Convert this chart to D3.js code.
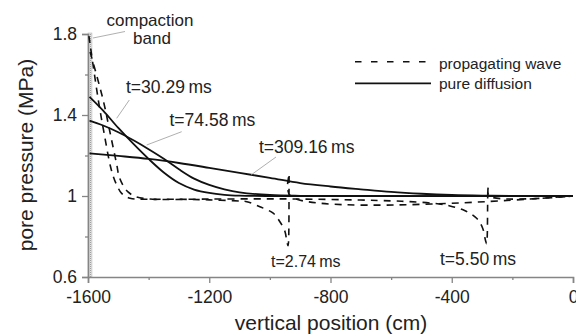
<!DOCTYPE html>
<html>
<head>
<meta charset="utf-8">
<script src="https://cdn.jsdelivr.net/npm/d3@7"></script>
<style>
  body { margin: 0; background: #fff; }
  svg { display: block; font-family: "Liberation Sans", Arial, Helvetica, sans-serif; }
</style>
</head>
<body>
<svg width="576" height="336"></svg>
<script>
// tick values for both axes
var xMajor = [-1600, -1200, -800, -400, 0];
var xMinor = [-1400, -1000, -600, -200];
var yMajor = [0.6, 1, 1.4, 1.8];
var yMinor = [0.8, 1.2, 1.6];

// compaction band extent (cm)
var bandEdges = [-1600, -1587];

// pure diffusion profiles: [position (cm), pressure (MPa)]
var diff30 = [[-1595,1.490],[-1550,1.422],[-1500,1.336],[-1450,1.257],[-1400,1.183],[-1350,1.116],
  [-1300,1.064],[-1250,1.032],[-1200,1.015],[-1150,1.006],[-1100,1.002],[-1000,1.0],[0,1.0]];
var diff74 = [[-1595,1.372],[-1550,1.348],[-1500,1.315],[-1450,1.275],[-1400,1.231],[-1350,1.184],
  [-1300,1.132],[-1250,1.086],[-1200,1.055],[-1150,1.033],[-1100,1.018],[-1000,1.005],[-900,1.001],[-800,1.0],[0,1.0]];
var diff309 = [[-1595,1.211],[-1500,1.198],[-1400,1.183],[-1300,1.163],[-1200,1.139],[-1100,1.114],
  [-1000,1.090],[-900,1.064],[-800,1.047],[-700,1.033],[-600,1.020],[-500,1.011],[-400,1.005],[-300,1.002],[-200,1.001],[0,1.0]];

// propagating wave profiles
var wave274 = [[-1597,1.790],[-1566,1.474],[-1547,1.311],[-1527,1.153],[-1516,1.094],[-1505,1.054],
  [-1489,1.013],[-1461,0.989],[-1412,0.984],[-1300,0.984],[-1200,0.981],[-1100,0.975],[-1076,0.972],
  [-1033,0.947],[-989,0.915],[-967,0.873],[-950,0.824],[-944,0.774],[-940,0.755],[-936,1.11],[-932,1.0],[0,1.0]];
var wave550 = [[-1593,1.711],[-1550,1.474],[-1527,1.311],[-1505,1.153],[-1498,1.099],[-1485,1.054],
  [-1468,1.020],[-1445,0.998],[-1396,0.985],[-1200,0.985],[-1000,0.986],[-900,0.985],[-700,0.980],
  [-600,0.976],[-538,0.972],[-461,0.964],[-406,0.951],[-356,0.927],[-318,0.890],[-298,0.841],
  [-289,0.783],[-285,0.765],[-280,1.046],[-276,1.0],[0,1.0]];

var waveSeries = [wave274, wave550];
var diffSeries = [diff30, diff74, diff309];

var legendNames = ["propagating wave", "pure diffusion"];

var labels = [
  {text: "t=30.29\u2009ms", x: 126, y: 93.3, size: 17.5},
  {text: "t=74.58\u2009ms", x: 169.5, y: 126, size: 17.5},
  {text: "t=309.16\u2009ms", x: 259, y: 153.3, size: 17.5},
  {text: "t=2.74\u2009ms", x: 271, y: 267, size: 16},
  {text: "t=5.50\u2009ms", x: 440, y: 265, size: 17.5}
];
var leaders = [
  [93, 38, 125, 31.5],
  [116.7, 118.3, 129.3, 100],
  [146.7, 145, 181.7, 131.7],
  [251, 175, 276, 157]
];

var svg = d3.select("svg");

var x = d3.scaleLinear().domain([-1600, 0]).range([88, 573]);
var y = d3.scaleLinear().domain([0.6, 1.8]).range([277, 34]);

// stippled fill for the band
var defs = svg.append("defs");
var pat = defs.append("pattern")
  .attr("id", "stipple")
  .attr("width", 2).attr("height", 2)
  .attr("patternUnits", "userSpaceOnUse");
pat.append("rect").attr("width", 2).attr("height", 2).attr("fill", "#e4e4e4");
pat.append("rect").attr("width", 1).attr("height", 1).attr("fill", "#a0a0a0");

svg.append("rect")
  .attr("x", x(bandEdges[0]))
  .attr("y", y(1.8) - 1)
  .attr("width", x(bandEdges[1]) - x(bandEdges[0]))
  .attr("height", y(0.6) - y(1.8) + 1)
  .attr("fill", "url(#stipple)")
  .attr("stroke", "#aaa")
  .attr("stroke-width", 0.5);

// axes
var tickFmt = function(d) { return String(d); };

svg.append("g")
  .attr("transform", "translate(0," + y(0.6) + ")")
  .call(d3.axisBottom(x).tickValues(xMajor).tickSize(6).tickPadding(8).tickFormat(tickFmt));
svg.append("g")
  .attr("transform", "translate(0," + y(0.6) + ")")
  .call(d3.axisBottom(x).tickValues(xMinor).tickSize(3).tickFormat(""))
  .select(".domain").remove();

svg.append("g")
  .attr("transform", "translate(" + x(-1600) + ",0)")
  .call(d3.axisLeft(y).tickValues(yMajor).tickSize(6).tickPadding(5).tickFormat(tickFmt));
svg.append("g")
  .attr("transform", "translate(" + x(-1600) + ",0)")
  .call(d3.axisLeft(y).tickValues(yMinor).tickSize(3).tickFormat(""))
  .select(".domain").remove();

svg.selectAll(".domain").attr("stroke", "#858585").attr("stroke-width", 1.6);
svg.selectAll(".tick line").attr("stroke", "#858585").attr("stroke-width", 1.3);
svg.selectAll(".tick text")
  .attr("font-size", 17.5)
  .attr("fill", "#222")
  .style("font-family", "'Liberation Sans', Arial, sans-serif");

// axis titles
svg.append("text")
  .attr("x", 331).attr("y", 330)
  .attr("text-anchor", "middle")
  .attr("font-size", 21)
  .attr("fill", "#222")
  .text("vertical position (cm)");

svg.append("text")
  .attr("transform", "translate(33,155) rotate(-90)")
  .attr("text-anchor", "middle")
  .attr("font-size", 21)
  .attr("fill", "#222")
  .text("pore pressure (MPa)");

// curves
var line = d3.line()
  .x(function(d) { return x(d[0]); })
  .y(function(d) { return y(d[1]); })
  .curve(d3.curveCatmullRom.alpha(0.5));

svg.selectAll(".diff")
  .data(diffSeries)
  .enter().append("path")
  .attr("class", "diff")
  .attr("d", line)
  .attr("fill", "none")
  .attr("stroke", "#111")
  .attr("stroke-width", 1.8);

svg.selectAll(".wave")
  .data(waveSeries)
  .enter().append("path")
  .attr("class", "wave")
  .attr("d", line)
  .attr("fill", "none")
  .attr("stroke", "#111")
  .attr("stroke-width", 1.6)
  .attr("stroke-dasharray", "7,6");

// leader lines and curve labels
svg.selectAll(".leader")
  .data(leaders)
  .enter().append("line")
  .attr("x1", function(d) { return d[0]; })
  .attr("y1", function(d) { return d[1]; })
  .attr("x2", function(d) { return d[2]; })
  .attr("y2", function(d) { return d[3]; })
  .attr("stroke", "#9a9a9a")
  .attr("stroke-width", 0.8);

svg.selectAll(".lbl")
  .data(labels)
  .enter().append("text")
  .attr("x", function(d) { return d.x; })
  .attr("y", function(d) { return d.y; })
  .attr("font-size", function(d) { return d.size; })
  .attr("fill", "#222")
  .text(function(d) { return d.text; });

svg.append("text")
  .attr("x", 150).attr("y", 25.5)
  .attr("text-anchor", "middle")
  .attr("font-size", 17)
  .attr("fill", "#222")
  .text("compaction");
svg.append("text")
  .attr("x", 152).attr("y", 43.5)
  .attr("text-anchor", "middle")
  .attr("font-size", 17)
  .attr("fill", "#222")
  .text("band");

// legend
var legend = svg.append("g");
legend.append("line")
  .attr("x1", 355).attr("x2", 427).attr("y1", 61.7).attr("y2", 61.7)
  .attr("stroke", "#111").attr("stroke-width", 1.6).attr("stroke-dasharray", "6.5,9.5");
legend.append("line")
  .attr("x1", 355).attr("x2", 431).attr("y1", 83.3).attr("y2", 83.3)
  .attr("stroke", "#111").attr("stroke-width", 1.8);
legend.selectAll("text")
  .data(legendNames)
  .enter().append("text")
  .attr("x", 439)
  .attr("y", function(d, i) { return 68.5 + i * 20.5; })
  .attr("font-size", 15.5)
  .attr("fill", "#222")
  .text(function(d) { return d; });
</script>
</body>
</html>
